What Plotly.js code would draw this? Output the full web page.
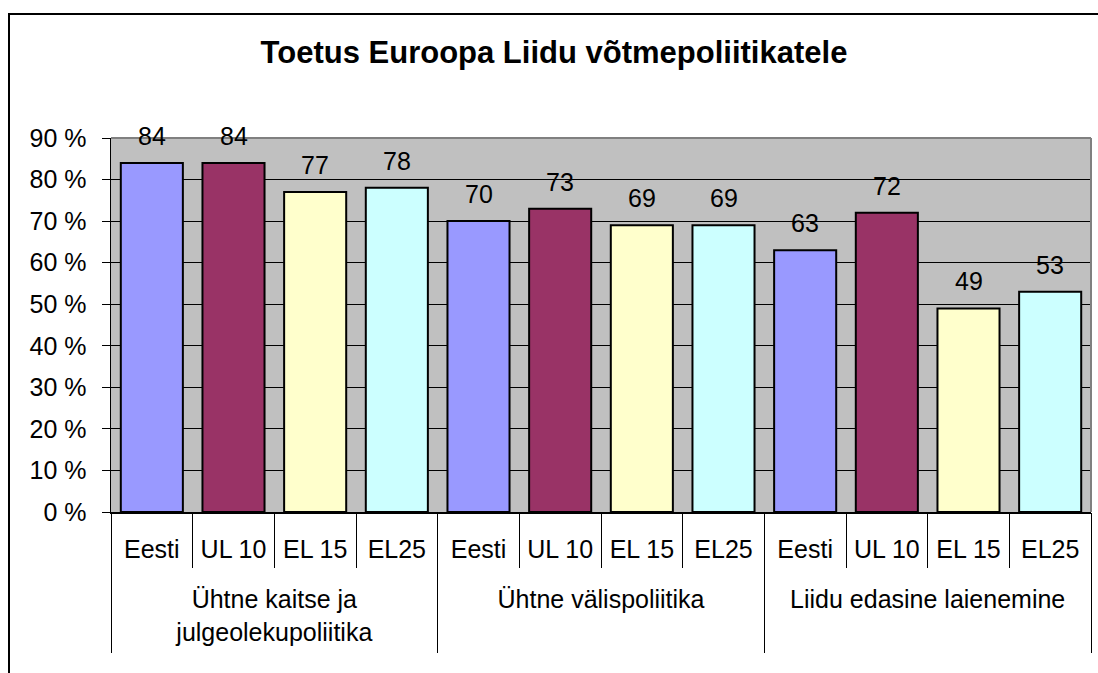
<!DOCTYPE html>
<html>
<head>
<meta charset="utf-8">
<script src="https://cdn.plot.ly/plotly-3.0.1.min.js"></script>
<style>
  html, body { margin: 0; padding: 0; background: #fff; width: 1098px; height: 673px; overflow: hidden; }
  #frame { position: absolute; left: 8px; top: 13px; width: 1088px; height: 658px;
           border-left: 2px solid #000; border-top: 2px solid #000; }
  #chart { width: 1088px; height: 658px; }
</style>
</head>
<body>
<div id="frame"><div id="chart"></div></div>
<script>
// Toetus Euroopa Liidu võtmepoliitikatele, % toetust
const groups  = ['Ühtne kaitse ja<br>julgeolekupoliitika', 'Ühtne välispoliitika', 'Liidu edasine laienemine'];
const members = ['Eesti', 'UL 10', 'EL 15', 'EL25'];
const kaitse     = [84, 84, 77, 78];
const valis      = [70, 73, 69, 69];
const laienemine = [63, 72, 49, 53];
const memberColors = ['#9999FF', '#993366', '#FFFFCC', '#CCFFFF'];

const values = [kaitse, valis, laienemine];
const x = [], y = [], colors = [], subLabels = [];
groups.forEach((g, gi) => {
    members.forEach((m, mi) => {
        x.push(x.length);
        y.push(values[gi][mi]);
        colors.push(memberColors[mi]);
        subLabels.push(m);
    });
});
const n = x.length, per = members.length;
const range = [-0.5, n - 0.5];
const boundaries  = Array.from({ length: n + 1 }, (_, i) => i - 0.5);
const groupEdges  = Array.from({ length: groups.length + 1 }, (_, i) => i * per - 0.5);
const groupCenter = groups.map((_, i) => i * per + (per - 1) / 2);

const font = 'Liberation Sans, Arial, sans-serif';
const fs = 25;

// value labels above bars
const labels = y.map((v, i) => ({
    x: i, y: v, xref: 'x', yref: 'y',
    text: String(v), showarrow: false,
    yanchor: 'bottom', yshift: 11,
    font: { family: font, size: fs, color: '#000' },
}));

// empty traces so the helper axes get drawn
const dummy = ax => ({
    type: 'scatter', mode: 'none', xaxis: ax, yaxis: 'y',
    x: range, y: [null, null], hoverinfo: 'skip', showlegend: false,
});

const hidden = { overlaying: 'x', anchor: 'y', range: range, showgrid: false, zeroline: false, showline: false };

Plotly.newPlot('chart', [{
    type: 'bar',
    x: x,
    y: y,
    marker: { color: colors, line: { color: '#000', width: 2 } },
}, dummy('x2'), dummy('x3'), dummy('x4')], {
    width: 1088, height: 658,
    margin: { l: 101, r: 7, t: 123, b: 161 },
    paper_bgcolor: 'rgba(0,0,0,0)',
    plot_bgcolor: '#C0C0C0',
    font: { family: font, size: fs, color: '#000' },
    title: {
        text: '<b>Toetus Euroopa Liidu võtmepoliitikatele</b>',
        font: { family: font, size: 31, color: '#000' },
        x: 0.5, xanchor: 'center', y: 0.943, yanchor: 'middle',
    },
    showlegend: false,
    bargap: 0.24,
    xaxis: {
        range: range,
        tickvals: x, ticktext: subLabels, ticks: '',
        ticklabelstandoff: 14,
        showline: true, linecolor: '#000', linewidth: 1.5,
        showgrid: false, zeroline: false,
        tickfont: { family: font, size: fs, color: '#000' },
    },
    // member boundaries
    xaxis2: Object.assign({}, hidden, {
        tickvals: boundaries, ticks: 'outside', ticklen: 55, tickcolor: '#000', tickwidth: 1,
        showticklabels: false,
    }),
    // group dividers
    xaxis3: Object.assign({}, hidden, {
        tickvals: groupEdges, ticks: 'outside', ticklen: 140, tickcolor: '#000', tickwidth: 1,
        showticklabels: false,
    }),
    // group labels
    xaxis4: Object.assign({}, hidden, {
        tickvals: groupCenter, ticktext: groups, ticks: '',
        ticklabelstandoff: 70,
        tickfont: { family: font, size: fs, color: '#000' },
    }),
    yaxis: {
        range: [0, 90], dtick: 10, ticksuffix: ' %',
        showline: true, linecolor: '#000', linewidth: 1.5,
        ticks: 'outside', ticklen: 8, tickcolor: '#000',
        ticklabelstandoff: 10,
        gridcolor: '#000', gridwidth: 1,
        zeroline: false,
        tickfont: { family: font, size: fs, color: '#000' },
    },
    shapes: [
        { type: 'line', xref: 'paper', yref: 'paper', x0: 0, x1: 1, y0: 1, y1: 1, line: { color: '#808080', width: 2 } },
        { type: 'line', xref: 'paper', yref: 'paper', x0: 1, x1: 1, y0: 0, y1: 1, line: { color: '#808080', width: 2 } },
    ],
    annotations: labels,
}, { displayModeBar: false, staticPlot: true });
</script>
</body>
</html>
